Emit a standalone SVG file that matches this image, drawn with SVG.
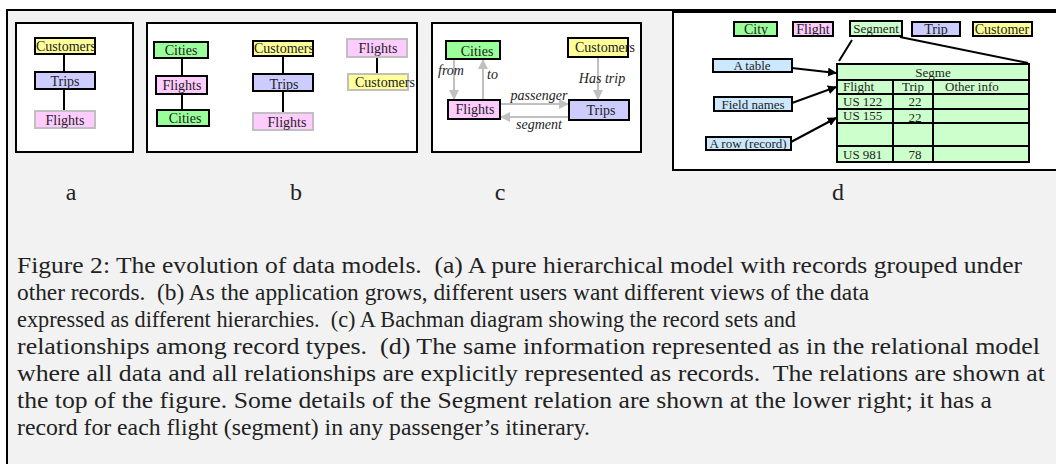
<svg xmlns="http://www.w3.org/2000/svg" width="1056" height="464" viewBox="0 0 1056 464">
<defs>
<marker id="ag" viewBox="0 0 10 10" refX="9" refY="5" markerWidth="5" markerHeight="5" orient="auto" markerUnits="strokeWidth"><path d="M0 0 L10 5 L0 10 z" fill="#c0c0c0"/></marker>
<marker id="ab" viewBox="0 0 10 10" refX="9" refY="5" markerWidth="4.5" markerHeight="4.5" orient="auto" markerUnits="strokeWidth"><path d="M0 0 L10 5 L0 10 z" fill="#000"/></marker>
<style>
text{font-family:'Liberation Serif','Times New Roman',serif;fill:#222}
.n{font-size:14px}
.m{font-size:13px}
.c{text-anchor:middle}
.i{font-style:italic;font-size:14px}
.panel{fill:#fff;stroke:#000;stroke-width:2}
.bk{stroke:#000;stroke-width:2}
.gr{stroke:#c0c0c0;stroke-width:2}
.y{fill:#ffff99}.l{fill:#ccccff}.p{fill:#ffccff}.g{fill:#99ff99}.lg{fill:#ccffcc}.lb{fill:#cce8ff}
.k{stroke:#000;stroke-width:2;fill:none}
.cg{stroke:#c0c0c0;stroke-width:2;fill:none}
.lbl{text-anchor:middle;font-size:24px}
.cap{font-size:24px;white-space:pre}
</style>
</defs>
<rect x="7" y="10" width="1049" height="454" fill="#f2f2f2"/>
<path d="M7 464 V10 H1056" fill="none" stroke="#000" stroke-width="2"/>

<rect class="panel" x="16" y="23" width="117" height="129"/>
<rect class="panel" x="147" y="23" width="270" height="129"/>
<rect class="panel" x="432" y="23" width="209" height="129"/>
<rect class="panel" x="673" y="12" width="390" height="158"/>

<g id="connectors">
<path class="k" d="M64 54 V72 M64 89 V111"/>
<path class="k" d="M182 58 V76 M182 94 V110 M283 56 V74 M283 91 V113 M377 57 V74"/>
<path class="cg" d="M454 59 V99" marker-end="url(#ag)"/>
<path class="cg" d="M483 100 V60" marker-end="url(#ag)"/>
<path class="cg" d="M598 57 V99" marker-end="url(#ag)"/>
<path class="cg" d="M500 104 H568" marker-end="url(#ag)"/>
<path class="cg" d="M569 117 H501" marker-end="url(#ag)"/>
<path class="k" d="M852 40 L839 61 M900 37 L1028 63"/>
<path class="k" d="M792 68 L836 73" marker-end="url(#ab)"/>
<path class="k" d="M792 103 L836 87" marker-end="url(#ab)"/>
<path class="k" d="M791 142 L836 118" marker-end="url(#ab)"/>
<text class="i" x="438" y="75">from</text>
<text class="i" x="487" y="79">to</text>
<text class="i c" x="602" y="83">Has trip</text>
<text class="i c" x="539" y="100">passenger</text>
<text class="i c" x="539" y="129">segment</text>
</g>

<g id="a-customers"><rect class="y bk" x="35" y="38" width="60" height="16"/><text class="n" x="36" y="51">Customers</text></g>
<g id="a-trips"><rect class="l bk" x="35" y="72" width="60" height="17"/><text class="n c" x="65" y="86">Trips</text></g>
<g id="a-flights"><rect class="p gr" x="35" y="111" width="60" height="17"/><text class="n c" x="65" y="125">Flights</text></g>

<g id="b-cities1"><rect class="g bk" x="154" y="42" width="54" height="16"/><text class="n c" x="181" y="55">Cities</text></g>
<g id="b-flights1"><rect class="p bk" x="156" y="76" width="51" height="18"/><text class="n c" x="182" y="90">Flights</text></g>
<g id="b-cities2"><rect class="g bk" x="157" y="110" width="52" height="16"/><text class="n c" x="185" y="123">Cities</text></g>
<g id="b-customers1"><rect class="y bk" x="253" y="41" width="60" height="15"/><text class="n" x="254" y="53">Customers</text></g>
<g id="b-trips"><rect class="l bk" x="253" y="74" width="60" height="17"/><text class="n c" x="284" y="89">Trips</text></g>
<g id="b-flights2"><rect class="p gr" x="253" y="113" width="60" height="17"/><text class="n c" x="287" y="127">Flights</text></g>
<g id="b-flights3"><rect class="p gr" x="347" y="39" width="60" height="18"/><text class="n c" x="378" y="53">Flights</text></g>
<g id="b-customers2"><rect class="y gr" x="348" y="74" width="60" height="16"/><text class="n" x="355" y="87">Customers</text></g>

<g id="c-cities"><rect class="g bk" x="446" y="41" width="54" height="18"/><text class="n c" x="477" y="56">Cities</text></g>
<g id="c-customers"><rect class="y bk" x="568" y="38" width="60" height="19"/><text class="n" x="575" y="52">Customers</text></g>
<g id="c-flights"><rect class="p bk" x="448" y="100" width="52" height="19"/><text class="n c" x="475" y="114">Flights</text></g>
<g id="c-trips"><rect class="l bk" x="569" y="100" width="60" height="20"/><text class="n c" x="601" y="115">Trips</text></g>

<g id="d-city"><rect class="g bk" x="734" y="22" width="43" height="14"/><text class="n c" x="756" y="34">City</text></g>
<g id="d-flight"><rect class="p bk" x="793" y="22" width="40" height="14"/><text class="n c" x="813" y="34">Flight</text></g>
<g id="d-segment"><rect class="lg bk" x="850" y="21" width="52" height="15"/><text class="m c" x="876" y="33">Segment</text></g>
<g id="d-trip"><rect class="l bk" x="912" y="22" width="48" height="14"/><text class="n c" x="936" y="34">Trip</text></g>
<g id="d-customer"><rect class="y bk" x="973" y="22" width="59" height="14"/><text class="n c" x="1002" y="34">Customer</text></g>

<g id="d-atable"><rect class="lb bk" x="713" y="59" width="79" height="13"/><text class="m c" x="752" y="70">A table</text></g>
<g id="d-fieldnames"><rect class="lb bk" x="714" y="97" width="78" height="14"/><text class="m c" x="753" y="109">Field names</text></g>
<g id="d-arow"><rect class="lb bk" x="706" y="137" width="85" height="13"/><text class="m c" x="748" y="148">A row (record)</text></g>

<g id="d-table">
<rect class="lg bk" x="837" y="64" width="192" height="98"/>
<path class="k" d="M837 80 H1029 M837 94 H1029 M837 109 H1029 M837 123 H1029 M837 146 H1029 M893 80 V162 M933 80 V162"/>
<text class="m c" x="933" y="77">Segme</text>
<text class="m" x="843" y="91">Flight</text>
<text class="m c" x="913" y="91">Trip</text>
<text class="m" x="945" y="91">Other info</text>
<text class="m" x="843" y="106">US 122</text>
<text class="m c" x="915" y="106">22</text>
<text class="m" x="843" y="120">US 155</text>
<text class="m c" x="915" y="122">22</text>
<text class="m" x="843" y="159">US 981</text>
<text class="m c" x="915" y="159">78</text>
</g>

<text class="lbl" x="71" y="200">a</text>
<text class="lbl" x="296" y="200">b</text>
<text class="lbl" x="500" y="200">c</text>
<text class="lbl" x="838" y="200">d</text>

<g id="caption">
<text class="cap" x="17" y="273" textLength="1005" lengthAdjust="spacingAndGlyphs">Figure 2: The evolution of data models.  (a) A pure hierarchical model with records grouped under</text>
<text class="cap" x="17" y="300" textLength="852" lengthAdjust="spacingAndGlyphs">other records.  (b) As the application grows, different users want different views of the data</text>
<text class="cap" x="17" y="327" textLength="779" lengthAdjust="spacingAndGlyphs">expressed as different hierarchies.  (c) A Bachman diagram showing the record sets and</text>
<text class="cap" x="17" y="354" textLength="1023" lengthAdjust="spacingAndGlyphs">relationships among record types.  (d) The same information represented as in the relational model</text>
<text class="cap" x="17" y="381" textLength="1028" lengthAdjust="spacingAndGlyphs">where all data and all relationships are explicitly represented as records.  The relations are shown at</text>
<text class="cap" x="17" y="408" textLength="975" lengthAdjust="spacingAndGlyphs">the top of the figure. Some details of the Segment relation are shown at the lower right; it has a</text>
<text class="cap" x="17" y="435" textLength="573" lengthAdjust="spacingAndGlyphs">record for each flight (segment) in any passenger’s itinerary.</text>
</g>
</svg>
